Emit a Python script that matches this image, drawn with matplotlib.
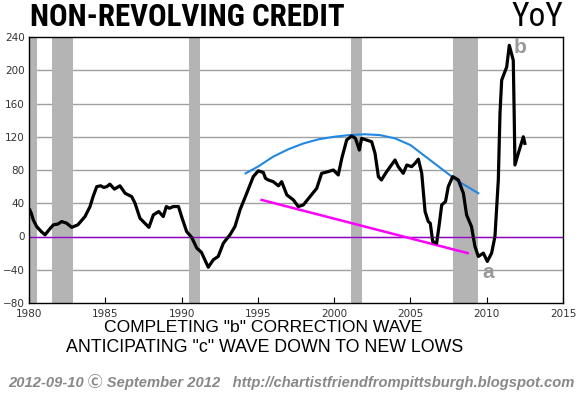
import matplotlib
matplotlib.use("Agg")
import matplotlib.pyplot as plt
from matplotlib import font_manager

# --- data ---
years = [1980.05, 1980.15, 1980.28, 1980.5, 1980.8, 1981.05, 1981.4, 1981.6, 1981.9, 1982.14,
         1982.47, 1982.8, 1983.2, 1983.67, 1984.0, 1984.2, 1984.44, 1984.7, 1984.9, 1985.1,
         1985.3, 1985.6, 1985.96, 1986.3, 1986.73, 1986.95, 1987.27, 1987.7, 1987.86, 1988.15,
         1988.5, 1988.8, 1989.0, 1989.2, 1989.46, 1989.8, 1990.0, 1990.33, 1990.66, 1991.0,
         1991.3, 1991.75, 1992.08, 1992.4, 1992.74, 1993.17, 1993.5, 1993.83, 1994.27, 1994.7,
         1995.03, 1995.36, 1995.5, 1995.68, 1996.0, 1996.35, 1996.56, 1996.9, 1997.33, 1997.65,
         1997.98, 1998.42, 1998.86, 1999.18, 1999.6, 1999.95, 2000.27, 2000.5, 2000.82, 2001.15,
         2001.4, 2001.65, 2001.8, 2002.13, 2002.46, 2002.68, 2002.9, 2003.1, 2003.44, 2003.99,
         2004.2, 2004.53, 2004.76, 2005.08, 2005.3, 2005.52, 2005.74, 2005.96, 2006.17, 2006.3,
         2006.46, 2006.72, 2006.9, 2007.05, 2007.3, 2007.48, 2007.77, 2008.14, 2008.47, 2008.68,
         2009.0, 2009.23, 2009.45, 2009.78, 2010.04, 2010.32, 2010.54, 2010.76, 2010.87, 2010.98,
         2011.31, 2011.48, 2011.74, 2011.8, 2011.85, 2012.07, 2012.4, 2012.5]
yoy = [32, 28, 20, 12, 6, 2, 10, 14, 15, 18,
       16, 11, 14, 24, 36, 48, 60, 61, 59, 60,
       63, 57, 61, 52, 48, 40, 22, 14, 11, 26,
       30, 24, 36, 34, 36, 36, 24, 6, -1, -14,
       -19, -37, -28, -24, -8, 2, 12, 32, 52, 72,
       79, 77, 70, 68, 66, 61, 66, 50, 44, 36,
       38, 48, 58, 76, 78, 80, 74, 94, 116, 121,
       118, 104, 118, 116, 114, 100, 72, 68, 78, 92,
       84, 76, 86, 84, 88, 93, 76, 30, 18, 16,
       -6, -8, 16, 38, 42, 60, 72, 68, 52, 26,
       12, -12, -24, -20, -30, -20, 0, 68, 148, 188,
       204, 230, 212, 148, 86, 100, 120, 112]

arc_years = [1994.2, 1995, 1996, 1997, 1998, 1999, 2000, 2001, 2002, 2003,
             2004, 2005, 2006, 2007, 2008, 2009, 2009.45]
arc_vals = [76, 84, 96, 105, 112, 117, 120, 122, 123, 122,
            118, 110, 96, 82, 68, 57, 52]

trend_years = [1995.25, 2008.75]
trend_vals = [44, -20]

recessions = [(1980.0, 1980.55), (1981.53, 1982.86), (1990.49, 1991.2),
              (2001.1, 2001.83), (2007.8, 2009.45)]

yticks = [-80, -40, 0, 40, 80, 120, 160, 200, 240]
xticks = [1980, 1985, 1990, 1995, 2000, 2005, 2010, 2015]

# narrow face for the title, falls back to plain Liberation Sans
installed = {f.name for f in font_manager.fontManager.ttflist}
narrow = "Liberation Sans"
for cand in ["Liberation Sans Narrow", "Arial Narrow", "Roboto Condensed", "Archivo Narrow",
             "PT Sans Narrow", "Open Sans Condensed"]:
    if cand in installed:
        narrow = cand
        break

fig = plt.figure(figsize=(5.8, 3.95), dpi=100)
ax = fig.add_axes([29 / 580, 92 / 395, 534 / 580, 266 / 395])

for a, b in recessions:
    ax.axvspan(a, b, color="#b4b4b4", lw=0, zorder=1)

for t in yticks[1:-1]:
    ax.axhline(t, color="#a0a0a0", lw=1.0, zorder=0)
ax.axhline(0, color="#9900cc", lw=1.0, zorder=2)

ax.plot(trend_years, trend_vals, color="#ff00ff", lw=1.8, zorder=3)
ax.plot(arc_years, arc_vals, color="#1e88e8", lw=1.5, zorder=3)
ax.plot(years, yoy, color="black", lw=2.3, zorder=4)

ax.text(2009.7, -43, "a", color="#999999", fontsize=15, fontweight="bold",
        family="Liberation Sans", ha="left", va="center")
ax.text(2011.75, 227, "b", color="#999999", fontsize=15, fontweight="bold",
        family="Liberation Sans", ha="left", va="center")

ax.set_xlim(1980, 2015)
ax.set_ylim(-80, 240)
ax.set_xticks(xticks)
ax.set_yticks(yticks)
ax.tick_params(axis="x", direction="in", length=4, labelsize=7.5, colors="black",
               labelcolor="#333333", pad=4)
ax.tick_params(axis="y", length=0, labelsize=7.5, labelcolor="#333333", pad=3)
for s in ax.spines.values():
    s.set_color("black")
    s.set_linewidth(1.0)

fig.text(30 / 580, 1 - 17 / 395, "NON-REVOLVING CREDIT", family=narrow, fontweight="bold",
         fontsize=22.3, va="center", ha="left")
fig.text(563 / 580, 1 - 17 / 395, "YoY", family=narrow, fontsize=24, va="center", ha="right")

fig.text(263 / 580, 1 - 328 / 395, 'COMPLETING "b" CORRECTION WAVE', family="Liberation Sans",
         fontsize=12.6, ha="center", va="center")
fig.text(265 / 580, 1 - 348 / 395, 'ANTICIPATING "c" WAVE DOWN TO NEW LOWS', family="Liberation Sans",
         fontsize=12.8, ha="center", va="center")

fig.text(8 / 580, 1 - 382 / 395,
         "2012-09-10 \u24b8 September 2012   http://chartistfriendfrompittsburgh.blogspot.com",
         family=["Liberation Sans", "Noto Sans CJK SC", "DejaVu Sans"], fontsize=10.6,
         fontweight="bold", style="italic", color="#888888", ha="left", va="center")

fig.savefig("out.png", dpi=100)
